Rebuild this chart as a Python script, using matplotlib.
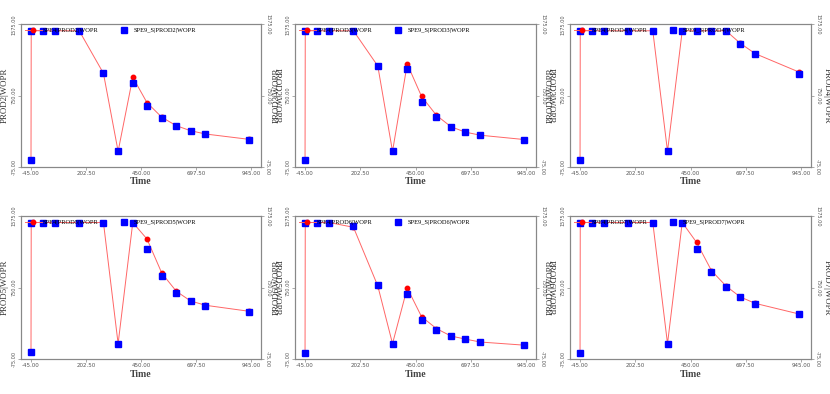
import matplotlib
matplotlib.use("Agg")
import matplotlib.pyplot as plt

# shared report times (days)
times = [-45, -44, 10, 63, 172, 281, 347, 413, 477, 544, 609, 673, 740, 936]

wells = ["PROD2", "PROD3", "PROD4", "PROD5", "PROD6", "PROD7"]

# SPE9_S (observed, blue squares)
obs_prod2 = [0, 1500, 1500, 1500, 1500, 1015, 103, 891, 628, 493, 396, 339, 300, 238]
obs_prod3 = [0, 1500, 1500, 1500, 1500, 1092, 103, 1053, 671, 497, 385, 323, 288, 238]
obs_prod4 = [0, 1500, 1500, 1500, 1500, 1500, 103, 1500, 1500, 1500, 1500, 1351, 1231, 1003]
obs_prod5 = [6, 1500, 1500, 1500, 1500, 1500, 105, 1500, 1195, 884, 685, 593, 543, 474]
obs_prod6 = [0, 1500, 1500, 1500, 1460, 785, 105, 681, 374, 267, 190, 155, 121, 86]
obs_prod7 = [0, 1500, 1500, 1500, 1500, 1500, 105, 1500, 1195, 927, 754, 639, 566, 443]

# SPE4 (simulated, red line + circles)
sim_prod2 = [0, 1500, 1500, 1500, 1500, 1007, 103, 961, 667, 497, 400, 342, 304, 242]
sim_prod3 = [0, 1500, 1500, 1500, 1500, 1092, 103, 1115, 740, 520, 388, 326, 290, 240]
sim_prod4 = [0, 1500, 1500, 1500, 1500, 1500, 103, 1500, 1500, 1500, 1500, 1355, 1235, 1022]
sim_prod5 = [6, 1500, 1500, 1500, 1500, 1500, 105, 1500, 1310, 915, 708, 597, 547, 478]
sim_prod6 = [0, 1500, 1500, 1500, 1445, 770, 105, 746, 416, 278, 193, 158, 124, 88]
sim_prod7 = [0, 1500, 1500, 1500, 1500, 1500, 105, 1500, 1272, 946, 769, 643, 569, 447]

obs = [obs_prod2, obs_prod3, obs_prod4, obs_prod5, obs_prod6, obs_prod7]
sim = [sim_prod2, sim_prod3, sim_prod4, sim_prod5, sim_prod6, sim_prod7]

xticks = [-45, 202.5, 450, 697.5, 945]
yticks = [-75, 750, 1575]

W, H = 830, 394
fig = plt.figure(figsize=(W / 100, H / 100), dpi=100)

cols = [(21, 261), (295, 536), (570, 811)]
rows = [(24.3, 166.7), (216, 359.3)]

tick_color = "#555555"
spine_color = "#888888"
serif = "Liberation Serif"

for i, well in enumerate(wells):
    r, c = divmod(i, 3)
    x0, x1 = cols[c]
    y0, y1 = rows[r]
    ax = fig.add_axes([x0 / W, 1 - y1 / H, (x1 - x0) / W, (y1 - y0) / H])

    ax.plot(times, sim[i], color="#ff6666", lw=0.7, marker="o", ms=3.2,
            mfc="red", mec="red", label=f"SPE4|{well}|WOPR", zorder=2)
    ax.plot(times, obs[i], ls="none", marker="s", ms=3.8, mfc="blue", mec="blue",
            label=f"SPE9_S|{well}|WOPR", zorder=3)

    ax.set_xlim(-90, 990)
    ax.set_ylim(-75, 1575)
    ax.set_xticks(xticks)
    ax.set_xticklabels([f"{v:.2f}" for v in xticks], fontsize=4, color=tick_color)
    ax.set_yticks(yticks)
    ax.set_yticklabels([f"{v:.2f}" for v in yticks], fontsize=3.6, color=tick_color,
                       rotation=90, va="center")
    ax.tick_params(length=2, width=0.5, color=spine_color, pad=1)
    for s in ax.spines.values():
        s.set_color(spine_color)
        s.set_linewidth(0.8)
    ax.set_xlabel("Time", fontsize=7, color="#444444", family=serif,
                  fontweight="bold", labelpad=1)

    rax = ax.twinx()
    rax.set_ylim(-75, 1575)
    rax.set_yticks(yticks)
    rax.set_yticklabels([f"{v:.2f}" for v in yticks], fontsize=3.6, color=tick_color,
                        rotation=270, va="center")
    rax.tick_params(length=2, width=0.5, color=spine_color, pad=1)
    for s in rax.spines.values():
        s.set_color(spine_color)
        s.set_linewidth(0.8)

    ax.legend(loc="upper left", bbox_to_anchor=(0.0, 1.0), ncol=2, frameon=False,
              handlelength=2.8, handletextpad=0.1, columnspacing=2.6,
              borderaxespad=0.3, borderpad=0.25, prop={"family": serif, "size": 4.6})

# y-axis labels: outermost readable, the ones between panels overlap into a blob
ymid = [(rows[0][0] + rows[0][1]) / 2, (rows[1][0] + rows[1][1]) / 2]
label_kw = dict(fontsize=6.4, color="#333333", family=serif, ha="center", va="center")
for r in range(2):
    left = wells[3 * r]
    mid1, mid2, right = wells[3 * r + 1], wells[3 * r + 2], wells[3 * r + 2]
    yf = 1 - ymid[r] / H
    fig.text(5 / W, yf, f"{left}|WOPR", rotation=90, **label_kw)
    fig.text(827 / W, yf, f"{right}|WOPR", rotation=270, **label_kw)
    for xp, a, b in [(277, left, mid1), (551, mid1, mid2)]:
        fig.text(xp / W, yf, f"{a}|WOPR", rotation=270, **label_kw)
        fig.text(xp / W, yf, f"{b}|WOPR", rotation=90, **label_kw)

fig.savefig("out.png", dpi=100)
